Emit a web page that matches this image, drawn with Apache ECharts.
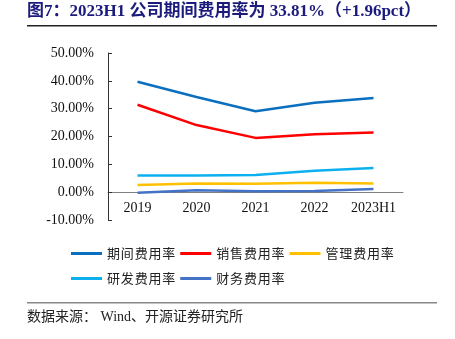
<!DOCTYPE html>
<html><head><meta charset="utf-8">
<script src="https://cdn.jsdelivr.net/npm/echarts@6/dist/echarts.min.js"></script>
<style>html,body{margin:0;padding:0;background:#fff}#c{width:455px;height:339px}</style>
</head><body><div id="c"></div>
<script>
var categories = ['2019', '2020', '2021', '2022', '2023H1'];
var periodRate = [39.7, 34.2, 29.1, 32.1, 33.81];
var salesRate = [31.4, 24.1, 19.5, 20.8, 21.4];
var adminRate = [2.6, 3.1, 3.0, 3.4, 3.1];
var rdRate = [6.0, 6.0, 6.2, 7.7, 8.7];
var financeRate = [-0.2, 0.7, 0.35, 0.4, 1.1];
var seriesNames = ['期间费用率', '销售费用率', '管理费用率', '研发费用率', '财务费用率'];
var colors = ['#0B6FBF', '#FF0000', '#FFC000', '#0DB0EE', '#4472C4'];
var dataSets = [periodRate, salesRate, adminRate, rdRate, financeRate];

var chart = echarts.init(document.getElementById('c'));
var serif = '"Liberation Serif", "Times New Roman", serif';
var cjk = '"Noto Sans CJK SC", sans-serif';
function legendCfg(top, names) {
  return {
    left: 66, top: top,
    itemWidth: 31, itemHeight: 3, itemGap: 5,
    icon: 'rect',
    data: names,
    formatter: function (n) { return n.split('').join('\u200A'); },
    textStyle: {fontFamily: cjk, fontSize: 13, color: '#222'}
  };
}
chart.setOption({
  animation: false,
  color: colors,
  grid: {left: 108, right: 52, top: 53, bottom: 119},
  legend: [legendCfg(242, seriesNames.slice(0, 3)), legendCfg(267, seriesNames.slice(3))],
  xAxis: {
    type: 'category', data: categories,
    axisLine: {onZero: true, lineStyle: {color: '#808080', width: 1}},
    axisTick: {inside: true, length: 4, lineStyle: {color: '#333'}},
    axisLabel: {fontFamily: serif, fontSize: 14, color: '#111', margin: -19, interval: 0}
  },
  yAxis: {
    type: 'value', min: -10, max: 50, interval: 10,
    splitLine: {show: false},
    axisLine: {show: true, lineStyle: {color: '#333', width: 1}},
    axisTick: {show: true, inside: true, length: 4, lineStyle: {color: '#333'}},
    axisLabel: {fontFamily: serif, fontSize: 14, color: '#111', margin: 14,
      formatter: function (v) { return v.toFixed(2) + '%'; }}
  },
  series: dataSets.map(function (d, i) {
    return {name: seriesNames[i], type: 'line', data: d, showSymbol: false, symbol: 'none',
      lineStyle: {width: 2.5, color: colors[i]}, itemStyle: {color: colors[i]}, z: 10 - i};
  }),
  graphic: [
    {type: 'text', left: 27, top: 3, style: {text: '图7：2023H1 公司期间费用率为 33.81%（+1.96pct）',
      font: 'bold 17px "Liberation Serif", "Noto Sans CJK SC", serif', fill: '#1B1B7E'}},
    {type: 'rect', shape: {x: 27, y: 25, width: 410, height: 1.5}, style: {fill: '#222'}},
    {type: 'rect', shape: {x: 27, y: 302, width: 410, height: 1.5}, style: {fill: '#888'}},
    {type: 'text', left: 27, top: 310, style: {text: '数据来源： Wind、开源证券研究所',
      font: '14px "Liberation Serif", "Noto Sans CJK SC", serif', fill: '#222'}}
  ]
});
</script></body></html>
